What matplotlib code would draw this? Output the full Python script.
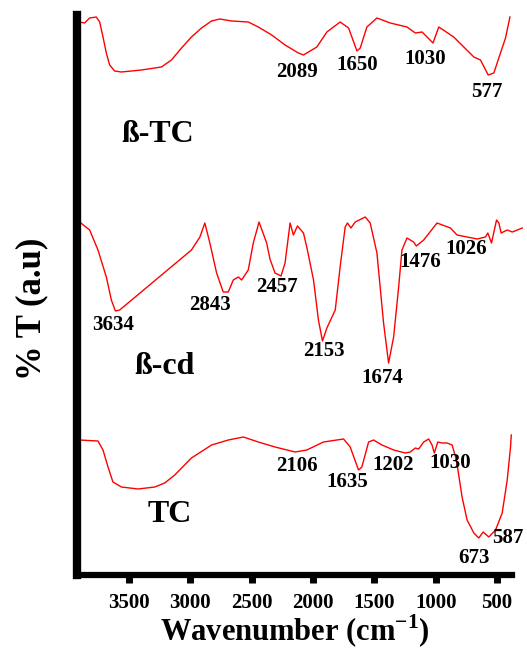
import matplotlib.pyplot as plt

plt.rcParams['font.family'] = ['Liberation Serif', 'DejaVu Serif']
plt.rcParams['font.weight'] = 'bold'
plt.rcParams['mathtext.fontset'] = 'custom'
plt.rcParams['mathtext.rm'] = 'Liberation Serif:bold'
plt.rcParams['mathtext.bf'] = 'Liberation Serif:bold'

# ß-TC spectrum (wavenumber, transmittance a.u.)
w_btc = [3903, 3862, 3821, 3767, 3739, 3712, 3685, 3658, 3617, 3562, 3399, 3236,
         3154, 3072, 2991, 2909, 2827, 2759, 2664, 2528, 2446, 2337, 2228, 2119,
         2078, 1969, 1887, 1779, 1710, 1642, 1615, 1561, 1479, 1370, 1234, 1166,
         1111, 1022, 975, 853, 771, 689, 635, 572, 526, 472, 431, 395]
t_btc = [558, 557, 562, 563, 558, 543, 527, 515, 509, 508, 510, 513,
         520, 532, 543, 552, 559, 561, 559, 558, 553, 545, 535, 527,
         525, 533, 548, 558, 552, 529, 532, 553, 562, 557, 553, 547,
         548, 537, 553, 543, 533, 523, 520, 505, 507, 527, 542, 563]

# ß-cd spectrum
w_bcd = [3903, 3821, 3753, 3685, 3644, 3611, 3576, 2991, 2922, 2882, 2841, 2786,
         2732, 2691, 2650, 2609, 2582, 2528, 2487, 2440, 2378, 2351, 2310, 2261,
         2228, 2187, 2160, 2127, 2078, 2051, 1996, 1956, 1923, 1887, 1819, 1779,
         1738, 1719, 1691, 1656, 1574, 1534, 1479, 1425, 1384, 1343, 1302, 1275,
         1234, 1180, 1158, 1098, 989, 880, 826, 662, 594, 575, 545, 504,
         485, 466, 417, 376, 294]
t_bcd = [358, 350, 330, 303, 280, 269, 270, 330, 343, 357, 337, 307,
         288, 288, 300, 303, 300, 310, 337, 358, 337, 321, 307, 304,
         317, 357, 345, 354, 347, 333, 300, 260, 239, 252, 270, 313,
         353, 357, 352, 358, 363, 357, 327, 257, 217, 243, 293, 330,
         342, 338, 334, 340, 357, 352, 345, 341, 343, 347, 337, 360,
         357, 347, 350, 348, 352]

# TC spectrum
w_tc = [3903, 3753, 3712, 3671, 3631, 3562, 3426, 3290, 3209, 3127, 2991, 2827,
        2691, 2568, 2446, 2310, 2146, 2051, 1915, 1751, 1697, 1629, 1602, 1547,
        1506, 1438, 1343, 1248, 1207, 1166, 1139, 1098, 1057, 1030, 1011, 983,
        948, 907, 866, 831, 785, 744, 689, 649, 613, 567, 512, 458,
        417, 390, 384]
t_tc = [140, 139, 130, 113, 98, 93, 91, 93, 97, 105, 122, 135,
        140, 143, 138, 133, 128, 130, 138, 141, 133, 110, 113, 138,
        140, 135, 130, 127, 128, 132, 131, 138, 141, 135, 127, 138,
        137, 137, 135, 120, 83, 60, 47, 42, 48, 43, 50, 67,
        100, 133, 145]

xticks = [3500, 3000, 2500, 2000, 1500, 1000, 500]

fig = plt.figure(figsize=(5.27, 6.58), dpi=100)
ax = fig.add_axes([77 / 527, 83 / 658, 435 / 527, 560 / 658])

ax.plot(w_btc, t_btc, color='red', lw=1.0, clip_on=False)
ax.plot(w_bcd, t_bcd, color='red', lw=1.0, clip_on=False)
ax.plot(w_tc, t_tc, color='red', lw=1.0, clip_on=False)

ax.set_xlim(3924, 378)
ax.set_ylim(5, 565)

# peak labels
peaks = [('2089', 2132, 508), ('1650', 1637, 515), ('1030', 1084, 521), ('577', 580, 488),
         ('3634', 3631, 255), ('2843', 2841, 275), ('2457', 2296, 293), ('2153', 1915, 229),
         ('1674', 1438, 202), ('1476', 1125, 318), ('1026', 749, 331),
         ('2106', 2132, 114), ('1635', 1724, 98), ('1202', 1348, 115), ('1030', 880, 117),
         ('673', 690, 22), ('587', 412, 42)]
for txt, x, y in peaks:
    ax.text(x, y, txt, ha='center', va='center', fontsize=15, fontweight='bold')

ax.text(3271, 445, 'ß-TC', ha='center', va='center', fontsize=23, fontweight='bold')
ax.text(3208, 213, 'ß-cd', ha='center', va='center', fontsize=23, fontweight='bold')
ax.text(3167, 66, 'TC', ha='center', va='center', fontsize=23, fontweight='bold')

ax.set_xticks(xticks)
ax.set_xticklabels([str(v) for v in xticks], fontsize=15, fontweight='bold')
ax.set_yticks([])
ax.tick_params(axis='x', direction='out', length=6, width=5, pad=7)

for s in ['top', 'right']:
    ax.spines[s].set_visible(False)
ax.spines['left'].set_linewidth(6)
ax.spines['bottom'].set_linewidth(4.5)

ax.set_xlabel('Wavenumber (cm$^{-1}$)', fontsize=22, fontweight='bold', labelpad=0)
ax.set_ylabel('% T (a.u)', fontsize=25, fontweight='bold')
ax.yaxis.set_label_coords(-0.065, 0.475)

fig.savefig('out.png', dpi=100)
